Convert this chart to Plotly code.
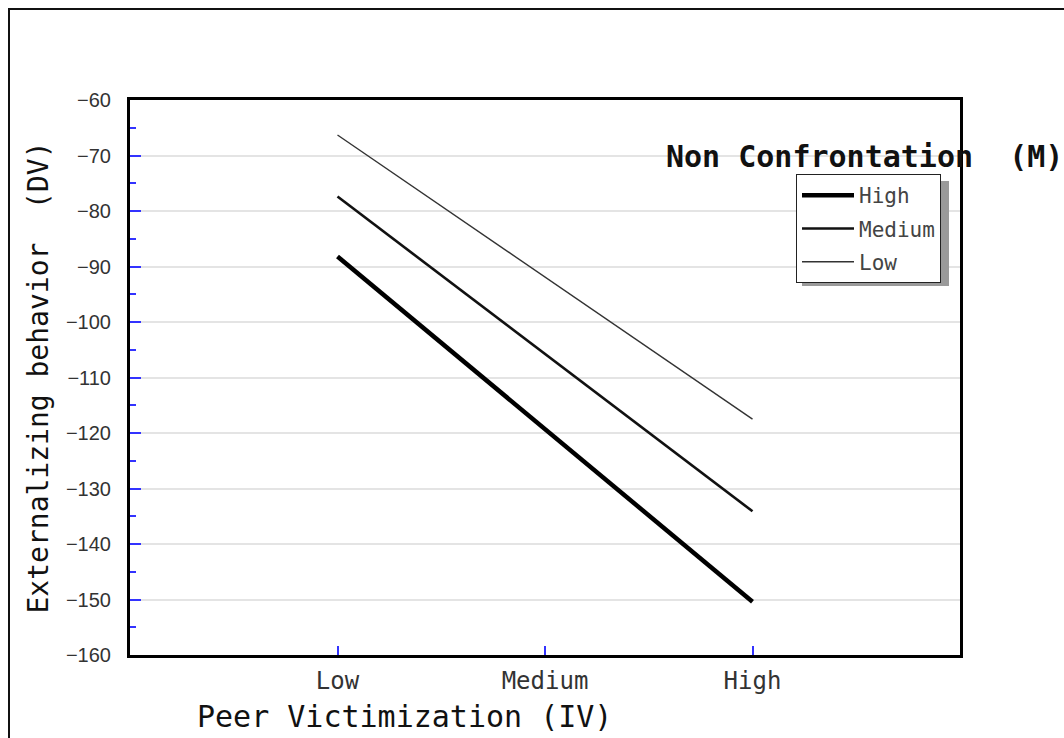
import plotly.graph_objects as go

# ---- data ----
iv_levels = ["Low", "Medium", "High"]
iv_positions = [1, 2, 3]
m_high = [-88.2, -119.3, -150.4]
m_medium = [-77.4, -105.8, -134.1]
m_low = [-66.3, -91.9, -117.5]
y_ticks = [-60, -70, -80, -90, -100, -110, -120, -130, -140, -150, -160]

W, H = 1064, 738
L, R, T, B = 130, 104, 100, 83
PW, PH = W - L - R, H - T - B


def px_x(px):
    return (px - L) / PW


def px_y(py):
    return (H - B - py) / PH


fig = go.Figure()
series = [("High", m_high, 4.5, "#000000"),
          ("Medium", m_medium, 2.6, "#111111"),
          ("Low", m_low, 1.4, "#333333")]
for name, vals, w, c in series:
    fig.add_trace(go.Scatter(x=iv_positions, y=vals, mode="lines", name=name,
                             legendgroup=name,
                             line=dict(color=c, width=w)))

mono = "DejaVu Sans Mono"
fig.update_layout(
    width=W, height=H,
    margin=dict(l=L, r=R, t=T, b=B),
    paper_bgcolor="white", plot_bgcolor="white",
    showlegend=True,
    legend=dict(x=px_x(796), y=px_y(174), xanchor="left", yanchor="top",
                bgcolor="white", bordercolor="#222222", borderwidth=1,
                font=dict(family=mono, size=21, color="#444444"),
                tracegroupgap=3, itemwidth=52),
    xaxis=dict(range=[0, 4], tickvals=iv_positions, ticktext=iv_levels,
               showgrid=False, zeroline=False,
               showline=True, linecolor="black", linewidth=3, mirror=True,
               ticks="inside", ticklen=9, tickwidth=2, tickcolor="#3333ff",
               ticklabelstandoff=2,
               tickfont=dict(family=mono, size=24, color="#333333")),
    yaxis=dict(range=[-160, -60], tickvals=y_ticks,
               showgrid=True, gridcolor="#e4e4e4", gridwidth=2,
               zeroline=False,
               showline=True, linecolor="black", linewidth=3, mirror=True,
               ticks="inside", ticklen=11, tickwidth=2, tickcolor="#3333ff",
               ticklabelstandoff=12,
               minor=dict(dtick=5, ticks="inside", ticklen=6, tickwidth=2,
                          tickcolor="#3333ff", showgrid=False),
               tickfont=dict(family="Liberation Sans", size=20, color="#333333")),
    annotations=[
        dict(text="Externalizing behavior  (DV)", textangle=-90,
             xref="paper", yref="paper", x=px_x(38), y=0.5,
             xanchor="center", yanchor="middle", showarrow=False,
             font=dict(family=mono, size=28, color="#111111")),
        dict(text="Peer Victimization (IV)",
             xref="paper", yref="paper", x=px_x(195), y=px_y(716),
             xanchor="left", yanchor="middle", showarrow=False,
             font=dict(family=mono, size=30, color="#111111")),
        dict(text="<b>Non Confrontation  (M)</b>",
             xref="paper", yref="paper", x=px_x(664), y=px_y(157),
             xanchor="left", yanchor="middle", showarrow=False,
             font=dict(family=mono, size=30, color="#111111")),
    ],
    shapes=[
        # legend shadow
        dict(type="rect", xref="paper", yref="paper", layer="above",
             x0=px_x(802), x1=px_x(949), y0=px_y(286), y1=px_y(181),
             fillcolor="#9a9a9a", line=dict(width=0)),
        # outer image border
        dict(type="rect", xref="paper", yref="paper", layer="below",
             x0=px_x(9), x1=px_x(1100), y0=px_y(780), y1=px_y(9),
             line=dict(color="#111111", width=2), fillcolor="rgba(0,0,0,0)"),
    ],
)

fig.write_html("out.html")
